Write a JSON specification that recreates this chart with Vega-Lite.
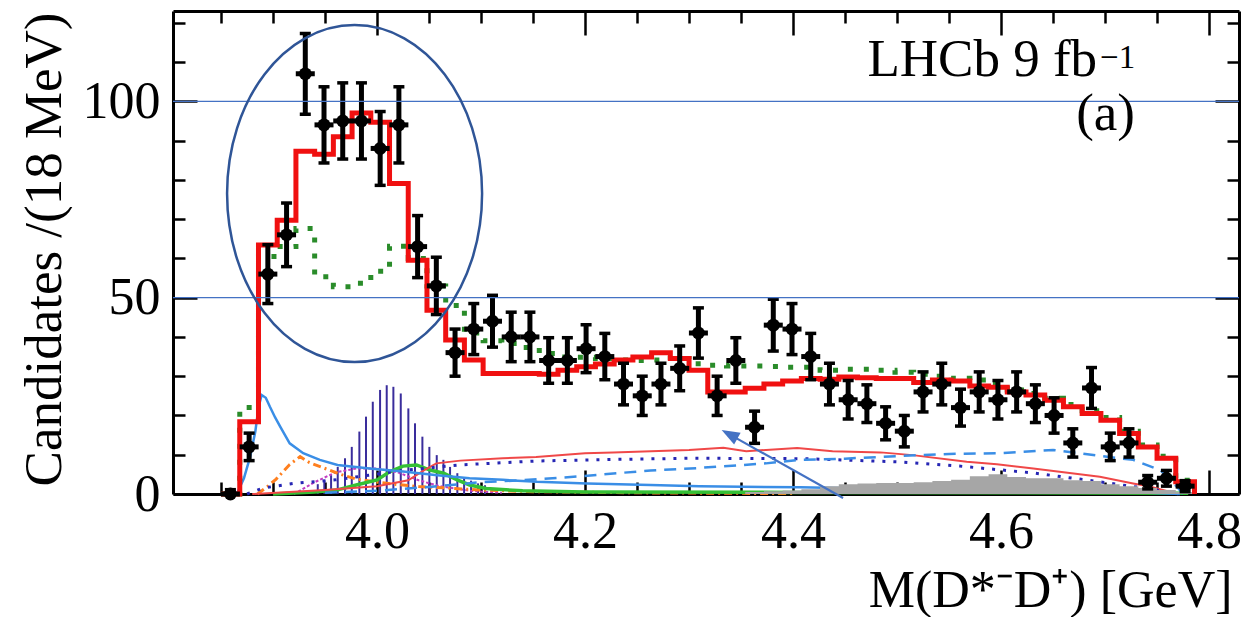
{
  "$schema": "https://vega.github.io/schema/vega-lite/v6.json",
  "width": 1066,
  "height": 483,
  "autosize": {"type": "none"},
  "padding": {"left": 173, "top": 11, "right": 3, "bottom": 123},
  "background": "white",
  "config": {"view": {"stroke": null}, "axis": {"grid": false}, "font": "Liberation Serif"},
  "resolve": {"axis": {"x": "independent", "y": "independent"}},
  "datasets": {
    "pts": [
      {"x": 3.859, "n": 0, "lo": 0, "hi": 1.1},
      {"x": 3.877, "n": 12, "lo": 8.5, "hi": 15.5},
      {"x": 3.895, "n": 56, "lo": 48.5, "hi": 63.5},
      {"x": 3.913, "n": 66, "lo": 57.9, "hi": 74.1},
      {"x": 3.931, "n": 107, "lo": 96.7, "hi": 117.3},
      {"x": 3.949, "n": 94, "lo": 84.3, "hi": 103.7},
      {"x": 3.967, "n": 95, "lo": 85.3, "hi": 104.7},
      {"x": 3.985, "n": 95, "lo": 85.3, "hi": 104.7},
      {"x": 4.003, "n": 88, "lo": 78.6, "hi": 97.4},
      {"x": 4.021, "n": 94, "lo": 84.3, "hi": 103.7},
      {"x": 4.039, "n": 63, "lo": 55.1, "hi": 70.9},
      {"x": 4.057, "n": 53, "lo": 45.7, "hi": 60.3},
      {"x": 4.075, "n": 36, "lo": 30, "hi": 42},
      {"x": 4.093, "n": 42, "lo": 35.5, "hi": 48.5},
      {"x": 4.111, "n": 44, "lo": 37.4, "hi": 50.6},
      {"x": 4.129, "n": 40, "lo": 33.7, "hi": 46.3},
      {"x": 4.147, "n": 40, "lo": 33.7, "hi": 46.3},
      {"x": 4.165, "n": 34, "lo": 28.2, "hi": 39.8},
      {"x": 4.183, "n": 34, "lo": 28.2, "hi": 39.8},
      {"x": 4.201, "n": 37, "lo": 30.9, "hi": 43.1},
      {"x": 4.219, "n": 35, "lo": 29.1, "hi": 40.9},
      {"x": 4.237, "n": 28, "lo": 22.7, "hi": 33.3},
      {"x": 4.255, "n": 25, "lo": 20, "hi": 30},
      {"x": 4.273, "n": 28, "lo": 22.7, "hi": 33.3},
      {"x": 4.291, "n": 32, "lo": 26.3, "hi": 37.7},
      {"x": 4.309, "n": 41, "lo": 34.6, "hi": 47.4},
      {"x": 4.327, "n": 25, "lo": 20, "hi": 30},
      {"x": 4.345, "n": 34, "lo": 28.2, "hi": 39.8},
      {"x": 4.363, "n": 17, "lo": 12.9, "hi": 21.1},
      {"x": 4.381, "n": 43, "lo": 36.4, "hi": 49.6},
      {"x": 4.399, "n": 42, "lo": 35.5, "hi": 48.5},
      {"x": 4.417, "n": 35, "lo": 29.1, "hi": 40.9},
      {"x": 4.435, "n": 28, "lo": 22.7, "hi": 33.3},
      {"x": 4.453, "n": 24, "lo": 19.1, "hi": 28.9},
      {"x": 4.471, "n": 23, "lo": 18.2, "hi": 27.8},
      {"x": 4.489, "n": 18, "lo": 13.8, "hi": 22.2},
      {"x": 4.507, "n": 16, "lo": 12, "hi": 20},
      {"x": 4.525, "n": 26, "lo": 20.9, "hi": 31.1},
      {"x": 4.543, "n": 28, "lo": 22.7, "hi": 33.3},
      {"x": 4.561, "n": 22, "lo": 17.3, "hi": 26.7},
      {"x": 4.579, "n": 26, "lo": 20.9, "hi": 31.1},
      {"x": 4.597, "n": 24, "lo": 19.1, "hi": 28.9},
      {"x": 4.615, "n": 26, "lo": 20.9, "hi": 31.1},
      {"x": 4.633, "n": 23, "lo": 18.2, "hi": 27.8},
      {"x": 4.651, "n": 20, "lo": 15.5, "hi": 24.5},
      {"x": 4.669, "n": 13, "lo": 9.4, "hi": 16.6},
      {"x": 4.687, "n": 27, "lo": 21.8, "hi": 32.2},
      {"x": 4.705, "n": 12, "lo": 8.5, "hi": 15.5},
      {"x": 4.723, "n": 13, "lo": 9.4, "hi": 16.6},
      {"x": 4.741, "n": 3, "lo": 1.3, "hi": 4.7},
      {"x": 4.759, "n": 4, "lo": 2, "hi": 6},
      {"x": 4.777, "n": 2, "lo": 0.6, "hi": 3.4}
    ],
    "edges": [
      {"x": 3.850, "fit": 0, "alt": 0, "bkg": 0},
      {"x": 3.868, "fit": 18.4, "alt": 22, "bkg": 0},
      {"x": 3.886, "fit": 63.4, "alt": 60.5, "bkg": 0},
      {"x": 3.904, "fit": 69.7, "alt": 63, "bkg": 0},
      {"x": 3.922, "fit": 87.3, "alt": 67.6, "bkg": 0},
      {"x": 3.940, "fit": 86.5, "alt": 55.3, "bkg": 0},
      {"x": 3.958, "fit": 91, "alt": 52.8, "bkg": 0},
      {"x": 3.976, "fit": 97, "alt": 53.7, "bkg": 0},
      {"x": 3.994, "fit": 94.7, "alt": 56.7, "bkg": 0},
      {"x": 4.012, "fit": 79.1, "alt": 63.1, "bkg": 0},
      {"x": 4.030, "fit": 59.5, "alt": 60, "bkg": 0},
      {"x": 4.048, "fit": 46.8, "alt": 53, "bkg": 0},
      {"x": 4.066, "fit": 39.2, "alt": 48, "bkg": 0},
      {"x": 4.084, "fit": 34.1, "alt": 41, "bkg": 0},
      {"x": 4.102, "fit": 30.7, "alt": 39, "bkg": 0},
      {"x": 4.120, "fit": 30.7, "alt": 38.3, "bkg": 0},
      {"x": 4.138, "fit": 30.7, "alt": 37.3, "bkg": 0},
      {"x": 4.156, "fit": 30.5, "alt": 35.8, "bkg": 0},
      {"x": 4.174, "fit": 31.5, "alt": 34.9, "bkg": 0},
      {"x": 4.192, "fit": 32.4, "alt": 34.8, "bkg": 0},
      {"x": 4.210, "fit": 33.1, "alt": 34.5, "bkg": 0},
      {"x": 4.228, "fit": 34.1, "alt": 34.1, "bkg": 0},
      {"x": 4.246, "fit": 34.9, "alt": 34, "bkg": 0},
      {"x": 4.264, "fit": 36, "alt": 34.1, "bkg": 0},
      {"x": 4.282, "fit": 34.5, "alt": 34.5, "bkg": 0},
      {"x": 4.300, "fit": 31.5, "alt": 33.2, "bkg": 0},
      {"x": 4.318, "fit": 26, "alt": 32.8, "bkg": 0},
      {"x": 4.336, "fit": 26, "alt": 32.6, "bkg": 0},
      {"x": 4.354, "fit": 26.9, "alt": 32.6, "bkg": 0.5},
      {"x": 4.372, "fit": 28, "alt": 32.5, "bkg": 0.7},
      {"x": 4.390, "fit": 28.8, "alt": 32.3, "bkg": 0.9},
      {"x": 4.408, "fit": 29.4, "alt": 32.3, "bkg": 1.2},
      {"x": 4.426, "fit": 29.2, "alt": 31.5, "bkg": 2},
      {"x": 4.444, "fit": 29.8, "alt": 31.8, "bkg": 2.5},
      {"x": 4.462, "fit": 29.6, "alt": 31.8, "bkg": 2.7},
      {"x": 4.480, "fit": 29.4, "alt": 31.5, "bkg": 2.8},
      {"x": 4.498, "fit": 29.4, "alt": 31, "bkg": 2.8},
      {"x": 4.516, "fit": 28.4, "alt": 30.5, "bkg": 3},
      {"x": 4.534, "fit": 29, "alt": 30, "bkg": 3.3},
      {"x": 4.552, "fit": 28.8, "alt": 29.5, "bkg": 3.6},
      {"x": 4.570, "fit": 27.5, "alt": 29, "bkg": 4.5},
      {"x": 4.588, "fit": 27.2, "alt": 28, "bkg": 5},
      {"x": 4.606, "fit": 26, "alt": 26.5, "bkg": 4.3},
      {"x": 4.624, "fit": 25.2, "alt": 25.6, "bkg": 4},
      {"x": 4.642, "fit": 23.9, "alt": 24.4, "bkg": 4},
      {"x": 4.660, "fit": 22.2, "alt": 22.8, "bkg": 3.5},
      {"x": 4.678, "fit": 20.5, "alt": 21.2, "bkg": 3.3},
      {"x": 4.696, "fit": 18.8, "alt": 19.5, "bkg": 2.5},
      {"x": 4.714, "fit": 15.4, "alt": 16, "bkg": 2},
      {"x": 4.732, "fit": 12, "alt": 12.5, "bkg": 1.5},
      {"x": 4.750, "fit": 9.1, "alt": 9.6, "bkg": 1},
      {"x": 4.768, "fit": 3.1, "alt": 3.5, "bkg": 0.5},
      {"x": 4.786, "fit": 0, "alt": 0, "bkg": 0}
    ],
    "hatch": [
      {"x": 3.9430, "h": 2.5}, {"x": 3.9493, "h": 3.5}, {"x": 3.9558, "h": 4.8},
      {"x": 3.9622, "h": 6.9}, {"x": 3.9692, "h": 9.1}, {"x": 3.9757, "h": 12.0},
      {"x": 3.9830, "h": 15.9}, {"x": 3.9894, "h": 19.7}, {"x": 3.9959, "h": 23.5},
      {"x": 4.0029, "h": 26.5}, {"x": 4.0093, "h": 27.7}, {"x": 4.0157, "h": 27.3},
      {"x": 4.0228, "h": 25.6}, {"x": 4.0301, "h": 21.8}, {"x": 4.0365, "h": 18.0},
      {"x": 4.0436, "h": 14.6}, {"x": 4.0503, "h": 12.0}, {"x": 4.0574, "h": 9.9},
      {"x": 4.0638, "h": 8.7}, {"x": 4.0702, "h": 6.9}, {"x": 4.0772, "h": 5.3},
      {"x": 4.0837, "h": 4.2}, {"x": 4.0904, "h": 3.4}, {"x": 4.0971, "h": 2.7},
      {"x": 4.1038, "h": 2.2}
    ],
    "comp": [
      {"s": "sig", "x": 3.866, "y": 0.5}, {"s": "sig", "x": 3.872, "y": 4}, {"s": "sig", "x": 3.878, "y": 9.5},
      {"s": "sig", "x": 3.883, "y": 16}, {"s": "sig", "x": 3.886, "y": 22}, {"s": "sig", "x": 3.889, "y": 25.2},
      {"s": "sig", "x": 3.893, "y": 24.5}, {"s": "sig", "x": 3.897, "y": 22.2}, {"s": "sig", "x": 3.902, "y": 19.5},
      {"s": "sig", "x": 3.907, "y": 17.1}, {"s": "sig", "x": 3.916, "y": 12.9}, {"s": "sig", "x": 3.929, "y": 10.4},
      {"s": "sig", "x": 3.945, "y": 8.7}, {"s": "sig", "x": 3.962, "y": 7.4}, {"s": "sig", "x": 3.993, "y": 6.5},
      {"s": "sig", "x": 4.025, "y": 5.7}, {"s": "sig", "x": 4.058, "y": 4.8}, {"s": "sig", "x": 4.089, "y": 4.0},
      {"s": "sig", "x": 4.121, "y": 3.6}, {"s": "sig", "x": 4.154, "y": 3.1}, {"s": "sig", "x": 4.202, "y": 2.7},
      {"s": "sig", "x": 4.263, "y": 2.3}, {"s": "sig", "x": 4.31, "y": 2.0}, {"s": "sig", "x": 4.407, "y": 1.7},
      {"s": "sig", "x": 4.503, "y": 1.2}, {"s": "sig", "x": 4.599, "y": 0.9}, {"s": "sig", "x": 4.695, "y": 0.6},
      {"s": "sig", "x": 4.743, "y": 0.3}, {"s": "sig", "x": 4.772, "y": 0},

      {"s": "dash", "x": 3.95, "y": 0.3}, {"s": "dash", "x": 4.0, "y": 0.8}, {"s": "dash", "x": 4.05, "y": 1.8},
      {"s": "dash", "x": 4.1, "y": 3.0}, {"s": "dash", "x": 4.146, "y": 3.6}, {"s": "dash", "x": 4.195, "y": 4.5},
      {"s": "dash", "x": 4.263, "y": 6.0}, {"s": "dash", "x": 4.308, "y": 6.6}, {"s": "dash", "x": 4.374, "y": 7.8},
      {"s": "dash", "x": 4.407, "y": 8.7}, {"s": "dash", "x": 4.45, "y": 9.0}, {"s": "dash", "x": 4.503, "y": 9.7},
      {"s": "dash", "x": 4.55, "y": 10.2}, {"s": "dash", "x": 4.599, "y": 10.4}, {"s": "dash", "x": 4.65, "y": 11.2},
      {"s": "dash", "x": 4.695, "y": 9.7}, {"s": "dash", "x": 4.727, "y": 8.7}, {"s": "dash", "x": 4.753, "y": 6.1},
      {"s": "dash", "x": 4.769, "y": 1.9}, {"s": "dash", "x": 4.775, "y": 0},

      {"s": "dot", "x": 3.875, "y": 0}, {"s": "dot", "x": 3.89, "y": 1.5}, {"s": "dot", "x": 3.92, "y": 2.7},
      {"s": "dot", "x": 3.96, "y": 3.6}, {"s": "dot", "x": 4.025, "y": 6.0}, {"s": "dot", "x": 4.079, "y": 7.4},
      {"s": "dot", "x": 4.153, "y": 8.4}, {"s": "dot", "x": 4.227, "y": 8.8}, {"s": "dot", "x": 4.3, "y": 9.1},
      {"s": "dot", "x": 4.41, "y": 9.0}, {"s": "dot", "x": 4.5, "y": 8.2}, {"s": "dot", "x": 4.56, "y": 7.1},
      {"s": "dot", "x": 4.63, "y": 5.4}, {"s": "dot", "x": 4.695, "y": 3.1}, {"s": "dot", "x": 4.727, "y": 1.9},
      {"s": "dot", "x": 4.75, "y": 1.0}, {"s": "dot", "x": 4.77, "y": 0},

      {"s": "thin", "x": 3.88, "y": 0}, {"s": "thin", "x": 3.95, "y": 1.0}, {"s": "thin", "x": 4.0, "y": 2.0},
      {"s": "thin", "x": 4.03, "y": 3.5}, {"s": "thin", "x": 4.045, "y": 6.0}, {"s": "thin", "x": 4.057, "y": 7.8},
      {"s": "thin", "x": 4.08, "y": 8.5}, {"s": "thin", "x": 4.121, "y": 9.1}, {"s": "thin", "x": 4.153, "y": 9.4},
      {"s": "thin", "x": 4.2, "y": 10.4}, {"s": "thin", "x": 4.227, "y": 10.6}, {"s": "thin", "x": 4.3, "y": 11.2},
      {"s": "thin", "x": 4.333, "y": 11.8}, {"s": "thin", "x": 4.355, "y": 10.9}, {"s": "thin", "x": 4.404, "y": 11.7},
      {"s": "thin", "x": 4.438, "y": 10.9}, {"s": "thin", "x": 4.484, "y": 10.6}, {"s": "thin", "x": 4.515, "y": 9.9},
      {"s": "thin", "x": 4.567, "y": 8.2}, {"s": "thin", "x": 4.596, "y": 7.6}, {"s": "thin", "x": 4.631, "y": 6.5},
      {"s": "thin", "x": 4.695, "y": 4.4}, {"s": "thin", "x": 4.727, "y": 2.7}, {"s": "thin", "x": 4.743, "y": 1.9},
      {"s": "thin", "x": 4.77, "y": 0},

      {"s": "orange", "x": 3.885, "y": 0}, {"s": "orange", "x": 3.895, "y": 2.0}, {"s": "orange", "x": 3.903, "y": 3.8},
      {"s": "orange", "x": 3.916, "y": 7.5}, {"s": "orange", "x": 3.926, "y": 9.5}, {"s": "orange", "x": 3.935, "y": 8.0},
      {"s": "orange", "x": 3.95, "y": 6.5}, {"s": "orange", "x": 3.965, "y": 5.0}, {"s": "orange", "x": 3.98, "y": 3.8},
      {"s": "orange", "x": 4.0, "y": 3.0}, {"s": "orange", "x": 4.02, "y": 2.4}, {"s": "orange", "x": 4.04, "y": 1.9},
      {"s": "orange", "x": 4.07, "y": 1.5}, {"s": "orange", "x": 4.1, "y": 1.0}, {"s": "orange", "x": 4.15, "y": 0.6},
      {"s": "orange", "x": 4.25, "y": 0.3}, {"s": "orange", "x": 4.4, "y": 0.1},

      {"s": "green", "x": 3.9, "y": 0}, {"s": "green", "x": 3.94, "y": 0.5}, {"s": "green", "x": 3.961, "y": 1.0},
      {"s": "green", "x": 3.98, "y": 2.3}, {"s": "green", "x": 4.0, "y": 3.6}, {"s": "green", "x": 4.0125, "y": 5.7},
      {"s": "green", "x": 4.025, "y": 7.1}, {"s": "green", "x": 4.038, "y": 7.4}, {"s": "green", "x": 4.051, "y": 6.1},
      {"s": "green", "x": 4.064, "y": 5.3}, {"s": "green", "x": 4.077, "y": 3.6}, {"s": "green", "x": 4.089, "y": 2.3},
      {"s": "green", "x": 4.105, "y": 1.4}, {"s": "green", "x": 4.14, "y": 0.8}, {"s": "green", "x": 4.2, "y": 0.5},
      {"s": "green", "x": 4.4, "y": 0.4}, {"s": "green", "x": 4.6, "y": 0.3}, {"s": "green", "x": 4.78, "y": 0.2},

      {"s": "mag", "x": 3.92, "y": 0}, {"s": "mag", "x": 3.94, "y": 3.0}, {"s": "mag", "x": 3.96, "y": 5.5},
      {"s": "mag", "x": 3.98, "y": 6.5}, {"s": "mag", "x": 4.0, "y": 6.5}, {"s": "mag", "x": 4.02, "y": 5.5},
      {"s": "mag", "x": 4.04, "y": 3.5}, {"s": "mag", "x": 4.06, "y": 2.0}, {"s": "mag", "x": 4.09, "y": 0.8},
      {"s": "mag", "x": 4.12, "y": 0.3}
    ]
  },
  "layer": [
    {
      "data": {"name": "hatch"},
      "mark": {"type": "rule", "color": "#3a2d9c", "strokeWidth": 2},
      "encoding": {
        "x": {"field": "x", "type": "quantitative", "scale": {"domain": [3.8038, 4.8288], "nice": false, "zero": false}, "axis": null},
        "y": {"field": "h", "type": "quantitative", "scale": {"domain": [0, 123], "nice": false, "zero": false}, "axis": null},
        "y2": {"datum": 0}
      }
    },
    {
      "data": {"name": "comp"},
      "transform": [{"filter": "datum.s === 'mag'"}],
      "mark": {"type": "line", "color": "#c23fc2", "strokeWidth": 2, "strokeDash": [3, 2]},
      "encoding": {
        "x": {"field": "x", "type": "quantitative", "scale": {"domain": [3.8038, 4.8288], "nice": false, "zero": false}, "axis": null},
        "y": {"field": "y", "type": "quantitative", "scale": {"domain": [0, 123], "nice": false, "zero": false}, "axis": null}
      }
    },
    {
      "data": {"name": "comp"},
      "transform": [{"filter": "datum.s === 'orange'"}],
      "mark": {"type": "line", "color": "#ff7f1e", "strokeWidth": 3, "strokeDash": [8, 4, 2, 4]},
      "encoding": {
        "x": {"field": "x", "type": "quantitative", "scale": {"domain": [3.8038, 4.8288], "nice": false, "zero": false}, "axis": null},
        "y": {"field": "y", "type": "quantitative", "scale": {"domain": [0, 123], "nice": false, "zero": false}, "axis": null}
      }
    },
    {
      "data": {"name": "comp"},
      "transform": [{"filter": "datum.s === 'green'"}],
      "mark": {"type": "line", "color": "#35c035", "strokeWidth": 3.5},
      "encoding": {
        "x": {"field": "x", "type": "quantitative", "scale": {"domain": [3.8038, 4.8288], "nice": false, "zero": false}, "axis": null},
        "y": {"field": "y", "type": "quantitative", "scale": {"domain": [0, 123], "nice": false, "zero": false}, "axis": null}
      }
    },
    {
      "data": {"name": "comp"},
      "transform": [{"filter": "datum.s === 'thin'"}],
      "mark": {"type": "line", "color": "#f04848", "strokeWidth": 2},
      "encoding": {
        "x": {"field": "x", "type": "quantitative", "scale": {"domain": [3.8038, 4.8288], "nice": false, "zero": false}, "axis": null},
        "y": {"field": "y", "type": "quantitative", "scale": {"domain": [0, 123], "nice": false, "zero": false}, "axis": null}
      }
    },
    {
      "data": {"name": "comp"},
      "transform": [{"filter": "datum.s === 'dot'"}],
      "mark": {"type": "line", "color": "#2626b4", "strokeWidth": 3, "strokeDash": [3, 8]},
      "encoding": {
        "x": {"field": "x", "type": "quantitative", "scale": {"domain": [3.8038, 4.8288], "nice": false, "zero": false}, "axis": null},
        "y": {"field": "y", "type": "quantitative", "scale": {"domain": [0, 123], "nice": false, "zero": false}, "axis": null}
      }
    },
    {
      "data": {"name": "comp"},
      "transform": [{"filter": "datum.s === 'dash'"}],
      "mark": {"type": "line", "color": "#3a8ee6", "strokeWidth": 2.5, "strokeDash": [12, 8]},
      "encoding": {
        "x": {"field": "x", "type": "quantitative", "scale": {"domain": [3.8038, 4.8288], "nice": false, "zero": false}, "axis": null},
        "y": {"field": "y", "type": "quantitative", "scale": {"domain": [0, 123], "nice": false, "zero": false}, "axis": null}
      }
    },
    {
      "data": {"name": "comp"},
      "transform": [{"filter": "datum.s === 'sig'"}],
      "mark": {"type": "line", "color": "#3a8ee6", "strokeWidth": 2.5},
      "encoding": {
        "x": {"field": "x", "type": "quantitative", "scale": {"domain": [3.8038, 4.8288], "nice": false, "zero": false}, "axis": null},
        "y": {"field": "y", "type": "quantitative", "scale": {"domain": [0, 123], "nice": false, "zero": false}, "axis": null}
      }
    },
    {
      "data": {"name": "edges"},
      "mark": {"type": "area", "interpolate": "step-after", "color": "#a6a6a6"},
      "encoding": {
        "x": {"field": "x", "type": "quantitative", "scale": {"domain": [3.8038, 4.8288], "nice": false, "zero": false}, "axis": null},
        "y": {"field": "bkg", "type": "quantitative", "scale": {"domain": [0, 123], "nice": false, "zero": false}, "axis": null}
      }
    },
    {
      "data": {"name": "edges"},
      "mark": {"type": "line", "interpolate": "step-after", "color": "#2a8c2a", "strokeWidth": 5, "strokeDash": [5, 11]},
      "encoding": {
        "x": {
          "field": "x", "type": "quantitative",
          "scale": {"domain": [3.8038, 4.8288], "nice": false, "zero": false},
          "axis": {
            "orient": "top", "labels": false, "title": null,
            "values": [3.85, 3.9, 3.95, 4, 4.05, 4.1, 4.15, 4.2, 4.25, 4.3, 4.35, 4.4, 4.45, 4.5, 4.55, 4.6, 4.65, 4.7, 4.75, 4.8],
            "tickSize": {"condition": {"test": "indexof([4, 4.2, 4.4, 4.6, 4.8], datum.value) >= 0", "value": -24}, "value": -12},
            "tickWidth": 2.5, "tickColor": "black", "domainColor": "black", "domainWidth": 3, "grid": false
          }
        },
        "y": {
          "field": "alt", "type": "quantitative",
          "scale": {"domain": [0, 123], "nice": false, "zero": false},
          "axis": {
            "orient": "right", "labels": false, "title": null,
            "values": [0, 10, 20, 30, 40, 50, 60, 70, 80, 90, 100, 110, 120],
            "tickSize": {"condition": {"test": "datum.value % 50 === 0", "value": -24}, "value": -12},
            "tickWidth": 2.5, "tickColor": "black", "domainColor": "black", "domainWidth": 3, "grid": false
          }
        }
      }
    },
    {
      "data": {"name": "edges"},
      "mark": {"type": "line", "interpolate": "step-after", "color": "#f01010", "strokeWidth": 5},
      "encoding": {
        "x": {
          "field": "x", "type": "quantitative",
          "scale": {"domain": [3.8038, 4.8288], "nice": false, "zero": false},
          "axis": {
            "orient": "bottom",
            "values": [3.85, 3.9, 3.95, 4, 4.05, 4.1, 4.15, 4.2, 4.25, 4.3, 4.35, 4.4, 4.45, 4.5, 4.55, 4.6, 4.65, 4.7, 4.75, 4.8],
            "format": ".2f",
            "labelExpr": "indexof(['4.00', '4.20', '4.40', '4.60', '4.80'], datum.label) >= 0 ? slice(datum.label, 0, 3) : ''",
            "tickSize": {"condition": {"test": "indexof([4, 4.2, 4.4, 4.6, 4.8], datum.value) >= 0", "value": -24}, "value": -12},
            "tickWidth": 2.5, "tickColor": "black", "domainColor": "black", "domainWidth": 3, "grid": false,
            "labelFont": "Liberation Serif", "labelFontSize": 52, "labelColor": "black",
            "labelBaseline": "alphabetic", "labelPadding": 77, "labelOverlap": false, "labelFlush": false,
            "title": "M(D*⁻D⁺) [GeV]", "titleFont": "Liberation Serif", "titleFontSize": 52,
            "titleFontWeight": "normal", "titleColor": "black",
            "titleX": 1059, "titleY": 112, "titleAlign": "right", "titleBaseline": "alphabetic"
          }
        },
        "y": {
          "field": "fit", "type": "quantitative",
          "scale": {"domain": [0, 123], "nice": false, "zero": false},
          "axis": {
            "orient": "left",
            "values": [0, 10, 20, 30, 40, 50, 60, 70, 80, 90, 100, 110, 120],
            "labelExpr": "datum.value % 50 === 0 ? datum.label : ''",
            "tickSize": {"condition": {"test": "datum.value % 50 === 0", "value": -24}, "value": -12},
            "tickWidth": 2.5, "tickColor": "black", "domainColor": "black", "domainWidth": 3, "grid": false,
            "labelFont": "Liberation Serif", "labelFontSize": 52, "labelColor": "black",
            "labelBaseline": "middle", "labelPadding": 37, "labelOverlap": false, "labelFlush": false,
            "title": "Candidates /(18 MeV)", "titleFont": "Liberation Serif", "titleFontSize": 53,
            "titleFontWeight": "normal", "titleColor": "black",
            "titleAngle": 270, "titleX": -113, "titleY": 1, "titleAlign": "right", "titleBaseline": "alphabetic"
          }
        }
      }
    },
    {
      "data": {"name": "pts"},
      "mark": {"type": "rule", "color": "black", "strokeWidth": 5},
      "encoding": {
        "x": {"field": "x", "type": "quantitative", "scale": {"domain": [3.8038, 4.8288], "nice": false, "zero": false}, "axis": null},
        "y": {"field": "lo", "type": "quantitative", "scale": {"domain": [0, 123], "nice": false, "zero": false}, "axis": null},
        "y2": {"field": "hi"}
      }
    },
    {
      "data": {"name": "pts"},
      "mark": {"type": "tick", "orient": "horizontal", "color": "black", "size": 11, "thickness": 3.5, "opacity": 1},
      "encoding": {
        "x": {"field": "x", "type": "quantitative", "scale": {"domain": [3.8038, 4.8288], "nice": false, "zero": false}, "axis": null},
        "y": {"field": "lo", "type": "quantitative", "scale": {"domain": [0, 123], "nice": false, "zero": false}, "axis": null}
      }
    },
    {
      "data": {"name": "pts"},
      "mark": {"type": "tick", "orient": "horizontal", "color": "black", "size": 11, "thickness": 3.5, "opacity": 1},
      "encoding": {
        "x": {"field": "x", "type": "quantitative", "scale": {"domain": [3.8038, 4.8288], "nice": false, "zero": false}, "axis": null},
        "y": {"field": "hi", "type": "quantitative", "scale": {"domain": [0, 123], "nice": false, "zero": false}, "axis": null}
      }
    },
    {
      "data": {"name": "pts"},
      "mark": {"type": "tick", "orient": "horizontal", "color": "black", "size": 19, "thickness": 5, "opacity": 1},
      "encoding": {
        "x": {"field": "x", "type": "quantitative", "scale": {"domain": [3.8038, 4.8288], "nice": false, "zero": false}, "axis": null},
        "y": {"field": "n", "type": "quantitative", "scale": {"domain": [0, 123], "nice": false, "zero": false}, "axis": null}
      }
    },
    {
      "data": {"name": "pts"},
      "mark": {"type": "point", "shape": "circle", "filled": true, "size": 165, "color": "black", "opacity": 1},
      "encoding": {
        "x": {"field": "x", "type": "quantitative", "scale": {"domain": [3.8038, 4.8288], "nice": false, "zero": false}, "axis": null},
        "y": {"field": "n", "type": "quantitative", "scale": {"domain": [0, 123], "nice": false, "zero": false}, "axis": null}
      }
    },
    {
      "data": {"values": [{"y": 50}, {"y": 100}]},
      "mark": {"type": "rule", "color": "#4472c4", "strokeWidth": 1.3},
      "encoding": {
        "y": {"field": "y", "type": "quantitative", "scale": {"domain": [0, 123], "nice": false, "zero": false}, "axis": null}
      }
    },
    {
      "data": {"values": [{"x": 3.9784, "y": 76.5}]},
      "mark": {
        "type": "point", "filled": false, "opacity": 1, "color": "#2f5597", "strokeWidth": 2.5, "size": 113569,
        "shape": "M0,-1C0.4179,-1,0.7567,-0.5523,0.7567,0C0.7567,0.5523,0.4179,1,0,1C-0.4179,1,-0.7567,0.5523,-0.7567,0C-0.7567,-0.5523,-0.4179,-1,0,-1Z"
      },
      "encoding": {
        "x": {"field": "x", "type": "quantitative", "scale": {"domain": [3.8038, 4.8288], "nice": false, "zero": false}, "axis": null},
        "y": {"field": "y", "type": "quantitative", "scale": {"domain": [0, 123], "nice": false, "zero": false}, "axis": null}
      }
    },
    {
      "data": {"values": [{"x": 4.4481, "y": -1.02, "x2": 4.3389, "y2": 15.19}]},
      "mark": {"type": "rule", "color": "#4472c4", "strokeWidth": 2.2},
      "encoding": {
        "x": {"field": "x", "type": "quantitative", "scale": {"domain": [3.8038, 4.8288], "nice": false, "zero": false}, "axis": null},
        "y": {"field": "y", "type": "quantitative", "scale": {"domain": [0, 123], "nice": false, "zero": false}, "axis": null},
        "x2": {"field": "x2"},
        "y2": {"field": "y2"}
      }
    },
    {
      "data": {"values": [{"x": 4.3389, "y": 15.19}]},
      "mark": {"type": "point", "filled": true, "opacity": 1, "color": "#4472c4", "size": 324, "angle": 299, "shape": "M0,-1L0.75,1L-0.75,1Z"},
      "encoding": {
        "x": {"field": "x", "type": "quantitative", "scale": {"domain": [3.8038, 4.8288], "nice": false, "zero": false}, "axis": null},
        "y": {"field": "y", "type": "quantitative", "scale": {"domain": [0, 123], "nice": false, "zero": false}, "axis": null}
      }
    },
    {
      "data": {"values": [{"x": 4.6923, "y": 106.55, "t": "LHCb 9 fb"}, {"x": 4.7288, "y": 92.6, "t": "(a)"}]},
      "mark": {"type": "text", "font": "Liberation Serif", "fontSize": 53, "color": "black", "align": "right", "baseline": "alphabetic"},
      "encoding": {
        "x": {"field": "x", "type": "quantitative", "scale": {"domain": [3.8038, 4.8288], "nice": false, "zero": false}, "axis": null},
        "y": {"field": "y", "type": "quantitative", "scale": {"domain": [0, 123], "nice": false, "zero": false}, "axis": null},
        "text": {"field": "t"}
      }
    },
    {
      "data": {"values": [{"x": 4.6952, "y": 108.6, "t": "−1"}]},
      "mark": {"type": "text", "font": "Liberation Serif", "fontSize": 33, "color": "black", "align": "left", "baseline": "alphabetic"},
      "encoding": {
        "x": {"field": "x", "type": "quantitative", "scale": {"domain": [3.8038, 4.8288], "nice": false, "zero": false}, "axis": null},
        "y": {"field": "y", "type": "quantitative", "scale": {"domain": [0, 123], "nice": false, "zero": false}, "axis": null},
        "text": {"field": "t"}
      }
    }
  ]
}
